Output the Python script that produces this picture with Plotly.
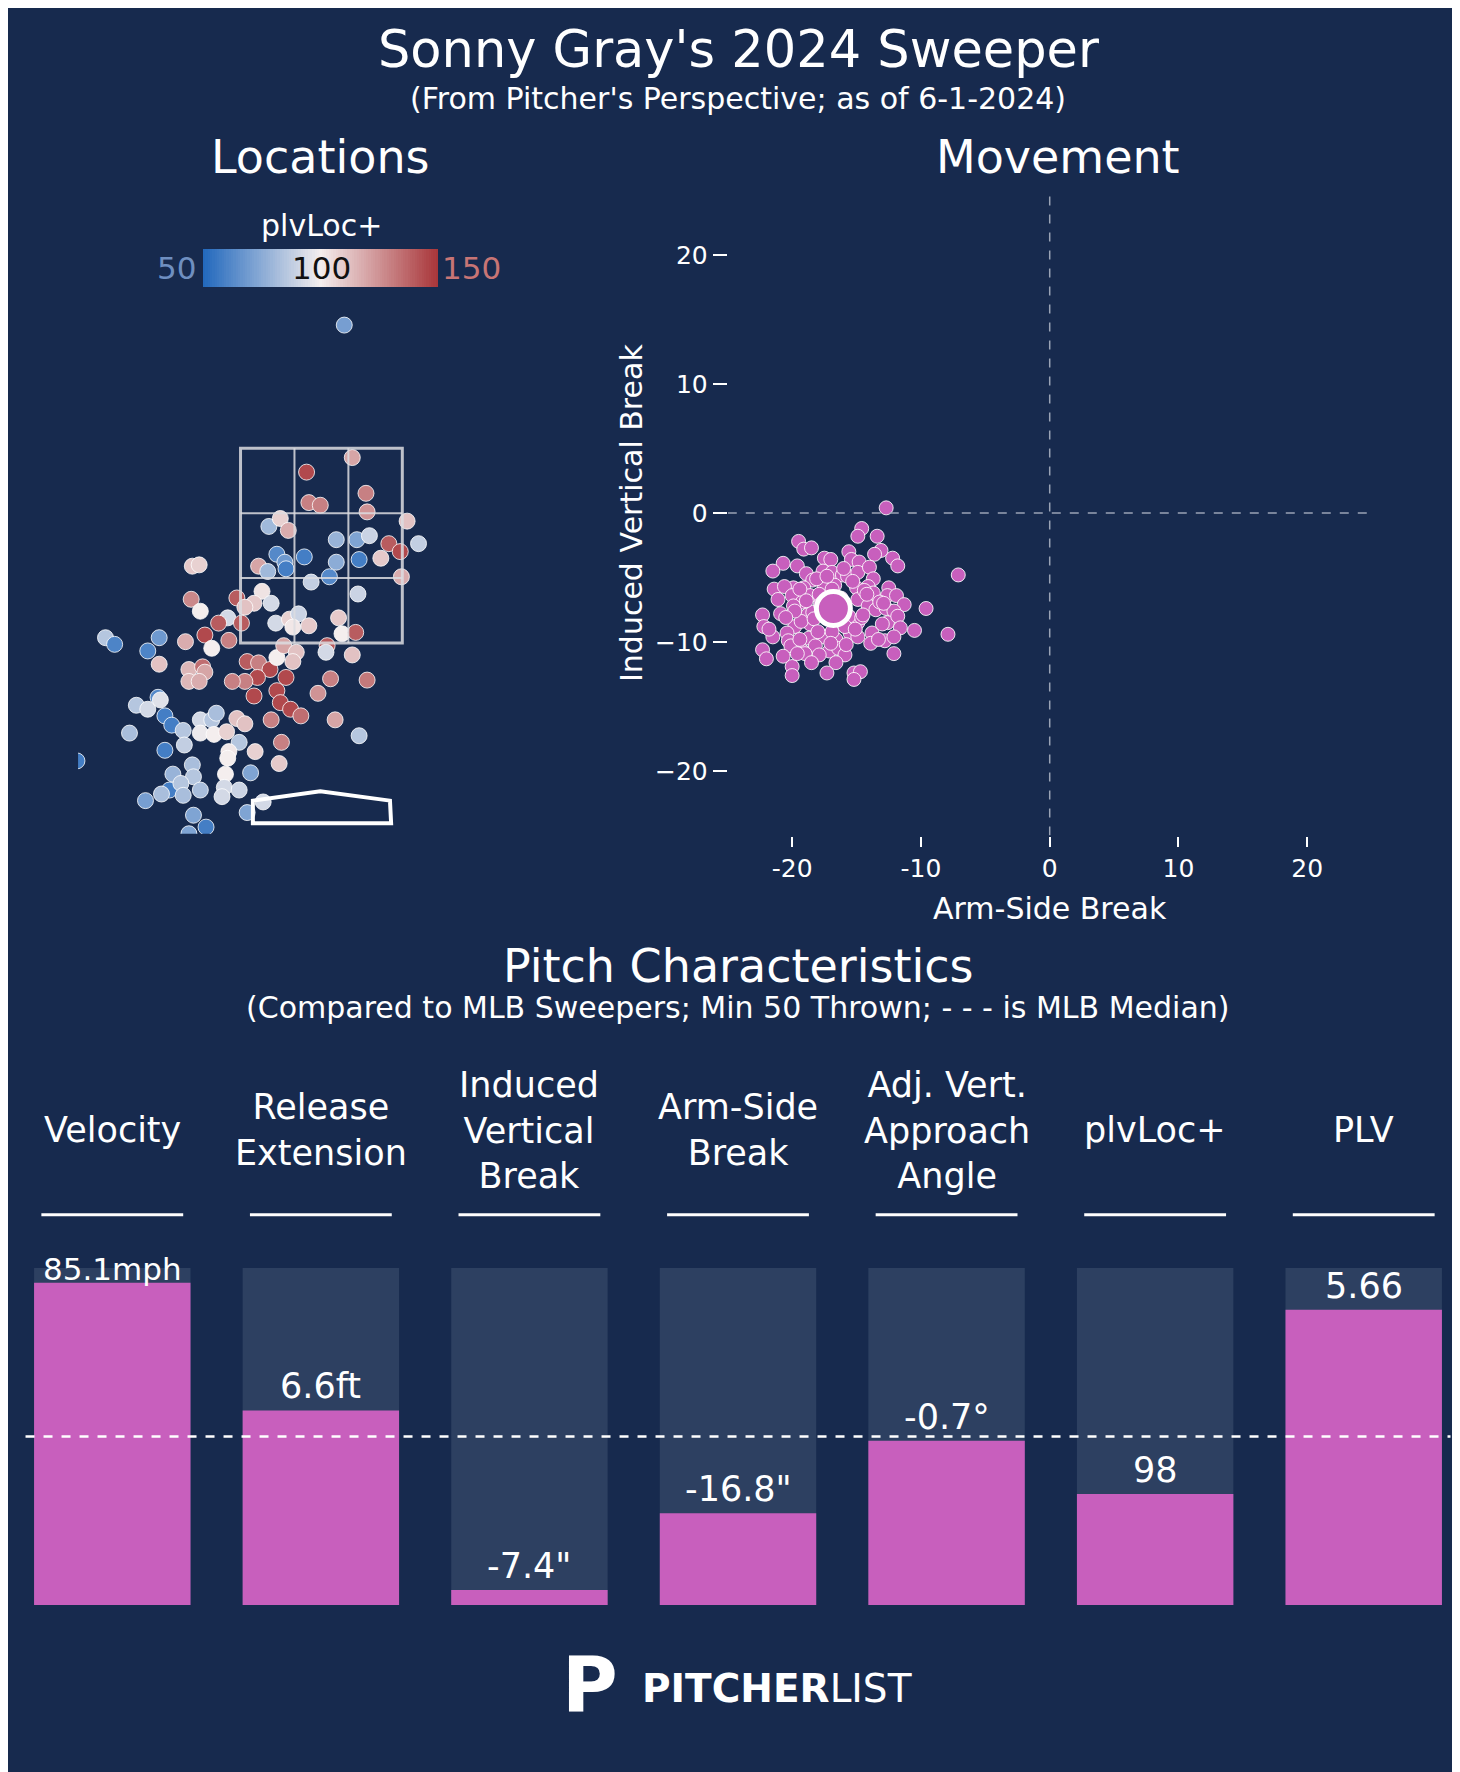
import plotly.graph_objects as go

BG = "#172a4e"
PINK = "#c85fbd"
FONT = "DejaVu Sans"
W, H = 1460, 1772

# locations (plate_x ft, plate_z ft, plvLoc+)
loc_x = [0.20, 0.27, -0.13, -0.11, -0.01, 0.39, 0.40, 0.75, -0.46, -0.36, -0.29, 0.13, 0.31, 0.42, 0.85,
         0.59, 0.69, 0.52, -0.39, -0.32, -0.31, -0.15, 0.13, 0.33, -0.55, -0.47, 0.07, -0.09, 0.70, 0.32,
         -1.13, -1.07, -1.14, -1.06, -0.74, -0.52, -0.59, -0.44, -0.67, -0.82, -0.90, -0.70, -0.81, -1.02,
         -0.96, -1.19, -0.40, -0.28, -0.20, -0.25, -0.11, 0.15, 0.18, 0.30, 0.05, 0.04, 0.27, -1.89, -1.81,
         -1.42, -1.52, -1.42, -1.16, -1.04, -1.02, -1.16, -1.07, -0.65, -0.55, -0.45, -0.39, -0.33, -0.22,
         -0.25, -0.31, -0.56, -0.67, -0.78, -0.59, -0.39, -0.36, -0.27, -0.18, -0.03, 0.08, 0.40, 0.12,
         -0.44, 0.33, -1.62, -1.52, -1.43, -1.41, -1.37, -1.31, -1.68, -1.21, -1.20, -1.37, -1.06, -1.06,
         -0.96, -0.92, -0.94, -0.83, -0.74, -0.67, -0.72, -0.81, -0.82, -0.58, -0.35, -0.37, -1.13, -1.12,
         -1.30, -1.33, -1.40, -1.23, -1.21, -1.06, -1.54, -0.84, -0.85, -0.87, -0.72, -0.62, -0.51, -0.65,
         -1.12, -1.01, -1.16, -2.14]
loc_z = [3.95, 2.95, 2.84, 2.61, 2.59, 2.68, 2.54, 2.47, 2.43, 2.49, 2.40, 2.33, 2.33, 2.36, 2.30,
         2.30, 2.24, 2.19, 2.22, 2.16, 2.11, 2.20, 2.16, 2.18, 2.13, 2.09, 2.05, 2.01, 2.05, 1.92,
         2.13, 2.14, 1.88, 1.79, 1.89, 1.94, 1.85, 1.85, 1.82, 1.74, 1.70, 1.70, 1.57, 1.61,
         1.51, 1.56, 1.70, 1.73, 1.77, 1.67, 1.68, 1.74, 1.62, 1.63, 1.53, 1.48, 1.46, 1.59, 1.54,
         1.59, 1.49, 1.39, 1.35, 1.37, 1.33, 1.26, 1.26, 1.41, 1.40, 1.35, 1.44, 1.53, 1.48,
         1.41, 1.29, 1.29, 1.26, 1.26, 1.15, 1.19, 1.10, 1.05, 1.00, 1.17, 1.28, 1.27, 0.97,
         0.97, 0.85, 1.08, 1.05, 1.14, 1.12, 1.00, 0.93, 0.87, 0.89, 0.78, 0.74, 0.97, 0.87,
         0.97, 1.02, 0.86, 0.88, 0.98, 0.94, 0.80, 0.73, 0.68, 0.73, 0.80, 0.64, 0.63, 0.54,
         0.56, 0.44, 0.41, 0.49, 0.40, 0.44, 0.36, 0.56, 0.46, 0.39, 0.44, 0.57, 0.35, 0.27,
         0.25, 0.16, 0.11, 0.66]
loc_plv = [70, 120, 145, 130, 130, 130, 125, 112, 80, 108, 118, 78, 72, 90, 88,
           140, 145, 110, 62, 68, 58, 58, 75, 58, 120, 80, 62, 88, 118, 90,
           110, 108, 128, 100, 140, 103, 110, 92, 112, 92, 140, 140, 130, 145,
           100, 118, 92, 108, 90, 102, 110, 110, 100, 140, 140, 92, 112, 85, 60,
           68, 60, 112, 115, 135, 120, 115, 118, 140, 130, 145, 100, 120, 112,
           112, 145, 145, 130, 130, 145, 145, 145, 145, 135, 125, 130, 132, 120,
           130, 85, 85, 92, 62, 95, 58, 58, 82, 85, 88, 58, 92, 98,
           85, 82, 100, 108, 112, 112, 85, 102, 100, 108, 130, 110, 82, 85,
           78, 58, 82, 85, 82, 82, 70, 100, 92, 92, 90, 72, 92, 72,
           72, 58, 72, 58]

# movement (arm-side break in, induced vertical break in)
hb = [-12.7, -14.6, -14.9, -13.4, -19.5, -19.1, -18.5, -15.6, -13.1, -13.6, -12.2, -11.8, -7.1, -15.4, -14.8,
      -17.5, -17.0, -20.7, -19.6, -21.5, -17.6, -16.9, -16.1, -15.7, -14.9, -14.0, -13.7, -18.9, -18.4, -19.9,
      -21.4, -20.6, -19.1, -17.5, -16.7, -15.0, -14.1, -13.7, -12.5, -12.6, -11.9, -11.3, -9.6, -21.1, -20.0,
      -19.2, -18.6, -14.9, -14.1, -13.5, -12.7, -12.1, -20.9, -22.3, -19.9, -18.8, -18.4, -22.2, -21.5, -19.8,
      -20.4, -18.6, -19.3, -14.9, -12.6, -11.8, -11.6, -10.5, -7.9, -13.8, -12.8, -12.1, -15.5, -14.9, -16.6,
      -17.6, -18.7, -20.3, -22.3, -22.0, -18.2, -19.2, -20.1, -17.1, -16.4, -15.9, -12.1, -20.7, -20.0, -20.0,
      -16.6, -17.3, -15.2, -14.7, -15.2, -17.9, -19.4, -16.9, -17.9, -15.6, -19.4, -16.9,
      -18.1, -17.3, -15.3, -14.4, -13.2, -19.8, -18.3, -15.9, -14.6, -13.0, -20.5, -18.0, -15.1, -13.9,
      -19.0, -17.0, -16.2, -14.2, -21.8, -18.9, -17.8, -14.5, -13.3, -12.9, -16.0, -19.6, -15.8, -18.5]
ivb = [0.4, -1.2, -1.8, -1.8, -2.2, -2.8, -2.7, -3.0, -2.9, -3.2, -3.5, -4.1, -4.8, -3.6, -3.8,
       -3.5, -3.6, -3.9, -4.1, -4.5, -4.5, -4.6, -4.8, -4.9, -4.6, -4.2, -5.1, -4.7, -5.2, -5.8,
       -5.9, -5.7, -5.8, -5.7, -5.6, -5.8, -5.7, -6.2, -5.8, -6.4, -6.4, -7.1, -7.4, -6.7, -6.4,
       -6.9, -6.4, -6.7, -7.2, -7.5, -7.4, -7.6, -7.8, -7.9, -7.2, -7.9, -7.7, -8.8, -9.6, -8.8,
       -9.3, -8.6, -8.4, -8.5, -8.5, -8.0, -8.9, -9.1, -9.4, -9.3, -9.9, -9.6, -9.3, -9.6, -9.8,
       -9.6, -9.7, -9.9, -10.6, -11.3, -10.3, -10.7, -10.3, -10.7, -10.5, -11.0, -10.9, -11.1, -11.9, -12.6,
       -11.6, -12.4, -12.4, -12.3, -12.9, -11.0, -9.8, -9.2, -6.3, -8.0, -5.9, -5.9,
       -5.1, -4.9, -5.3, -6.0, -6.9, -7.6, -8.2, -8.8, -8.1, -8.6, -8.1, -9.2, -9.0, -10.1,
       -10.9, -10.1, -6.6, -6.3, -9.0, -6.8, -7.1, -7.9, -9.8, -7.0, -4.3, -10.9, -10.2, -11.6]
avg_hb, avg_ivb = -16.8, -7.4

# pitch characteristics (percentile vs MLB sweepers)
metrics = ["Velocity", "Release<br>Extension", "Induced<br>Vertical<br>Break", "Arm-Side<br>Break",
           "Adj. Vert.<br>Approach<br>Angle", "plvLoc+", "PLV"]
pct = [0.956, 0.577, 0.044, 0.272, 0.487, 0.329, 0.876]
labels = ["85.1mph", "6.6ft", "-7.4\"", "-16.8\"", "-0.7°", "98", "5.66"]

scale = [[0, "#2369bd"], [0.5, "#f4eeee"], [1, "#a9373b"]]

fig = go.Figure()

fig.add_trace(go.Scatter(
    x=loc_x, y=loc_z, mode="markers", xaxis="x", yaxis="y",
    marker=dict(size=16, color=loc_plv, colorscale=scale, cmin=50, cmax=150,
                line=dict(color="rgba(255,255,255,0.8)", width=1)),
    showlegend=False))

cb_vals = list(range(50, 151))
fig.add_trace(go.Heatmap(z=[cb_vals], x=cb_vals, xaxis="x3", yaxis="y3",
                         colorscale=scale, zmin=50, zmax=150, showscale=False))

fig.add_trace(go.Scatter(
    x=hb, y=ivb, mode="markers", xaxis="x2", yaxis="y2",
    marker=dict(size=14, color=PINK, line=dict(color="rgba(255,255,255,0.85)", width=1)),
    showlegend=False))
fig.add_trace(go.Scatter(
    x=[avg_hb], y=[avg_ivb], mode="markers", xaxis="x2", yaxis="y2",
    marker=dict(size=34, color=PINK, line=dict(color="white", width=5)), showlegend=False))

idx = list(range(len(metrics)))
fig.add_trace(go.Bar(x=idx, y=[1] * len(idx), xaxis="x4", yaxis="y4", width=0.75,
                     marker=dict(color="#2d4061", line=dict(width=0)), showlegend=False))
fig.add_trace(go.Bar(x=idx, y=pct, xaxis="x4", yaxis="y4", width=0.75,
                     marker=dict(color=PINK, line=dict(width=0)), showlegend=False))

shapes = []
# strike zone
zx0, zx1, zz0, zz1 = -0.708, 0.708, 1.55, 3.02
zc = "rgba(220,220,225,0.85)"
shapes.append(dict(type="rect", xref="x", yref="y", x0=zx0, x1=zx1, y0=zz0, y1=zz1,
                   line=dict(color=zc, width=3)))
for k in (1, 2):
    xv = zx0 + (zx1 - zx0) * k / 3
    zv = zz0 + (zz1 - zz0) * k / 3
    shapes.append(dict(type="line", xref="x", yref="y", x0=xv, x1=xv, y0=zz0, y1=zz1,
                       line=dict(color=zc, width=2)))
    shapes.append(dict(type="line", xref="x", yref="y", x0=zx0, x1=zx1, y0=zv, y1=zv,
                       line=dict(color=zc, width=2)))
shapes.append(dict(type="path", xref="x", yref="y",
                   path="M -0.60 0.19 L 0.61 0.19 L 0.60 0.36 L -0.01 0.43 L -0.60 0.36 Z",
                   line=dict(color="white", width=4)))
# movement reference lines
shapes.append(dict(type="line", xref="x2", yref="y2", x0=-25, x1=25, y0=0, y1=0,
                   line=dict(color="#9aa3b5", width=1.5, dash="dash")))
shapes.append(dict(type="line", xref="x2", yref="y2", x0=0, x1=0, y0=-25, y1=25,
                   line=dict(color="#9aa3b5", width=1.5, dash="dash")))
# header underlines and median line
for i in idx:
    shapes.append(dict(type="line", xref="x4", yref="paper", x0=i - 0.34, x1=i + 0.34,
                       y0=0.319, y1=0.319, line=dict(color="white", width=3)))
shapes.append(dict(type="line", xref="paper", yref="y4", x0=0.012, x1=0.988, y0=0.5, y1=0.5,
                   line=dict(color="white", width=2.5, dash="dash")))

ann = []


def txt(x, y, t, size, color="white", xanchor="center", **kw):
    d = dict(x=x, y=y, xref="paper", yref="paper", text=t, showarrow=False,
             xanchor=xanchor, yanchor="middle",
             font=dict(size=size, color=color, family=FONT))
    d.update(kw)
    ann.append(d)


txt(0.5, 1 - 41 / H, "Sonny Gray's 2024 Sweeper", 51)
txt(0.5, 1 - 90 / H, "(From Pitcher's Perspective; as of 6-1-2024)", 30)
txt(312 / W, 1 - 149 / H, "Locations", 46)
txt(1050 / W, 1 - 149 / H, "Movement", 46)
txt(313 / W, 1 - 217 / H, "plvLoc+", 30)
txt(168 / W, 1 - 260 / H, "50", 31, color="#6f8fc0")
txt(463 / W, 1 - 260 / H, "150", 31, color="#c87575")
txt(313 / W, 1 - 260 / H, "100", 31, color="#111111")
txt(1042 / W, 1 - 900 / H, "Arm-Side Break", 30)
txt(623 / W, 1 - 505 / H, "Induced Vertical Break", 30, textangle=-90)
txt(0.5, 1 - 958 / H, "Pitch Characteristics", 46)
txt(0.5, 1 - 999 / H, "(Compared to MLB Sweepers; Min 50 Thrown; - - - is MLB Median)", 30)
for i, m in enumerate(metrics):
    ann.append(dict(x=i, y=1 - 1122 / H, xref="x4", yref="paper", text=m, showarrow=False,
                    xanchor="center", yanchor="middle",
                    font=dict(size=35, color="white", family=FONT)))
    ann.append(dict(x=i, y=pct[i], xref="x4", yref="y4", text=labels[i], showarrow=False,
                    xanchor="center", yanchor="bottom", yshift=-6 if i == 0 else 2,
                    font=dict(size=35 if i else 31, color="white", family=FONT)))
txt(582 / W, 1 - 1676 / H, "<b>P</b>", 76)
txt(632 / W, 1 - 1680 / H, "<b>PITCHER</b>LIST", 39, xanchor="left")

fig.update_layout(
    width=W, height=H, paper_bgcolor=BG, plot_bgcolor=BG,
    margin=dict(l=0, r=0, t=0, b=0), font=dict(family=FONT, color="white"),
    barmode="overlay", shapes=shapes, annotations=ann,
    xaxis=dict(domain=[0.048, 0.379], range=[-2.13, 2.1], visible=False, fixedrange=True),
    yaxis=dict(domain=[0.534, 0.8375], range=[0.11, 4.17], visible=False),
    xaxis3=dict(domain=[195 / W, 430 / W], range=[49.5, 150.5], visible=False, anchor="y3"),
    yaxis3=dict(domain=[1 - 279 / H, 1 - 241 / H], visible=False, anchor="x3"),
    xaxis2=dict(domain=[0.493, 0.934], range=[-25, 25], anchor="y2", showgrid=False, zeroline=False,
                showline=False, tickvals=[-20, -10, 0, 10, 20], ticktext=["-20", "-10", "0", "10", "20"],
                ticks="outside", ticklen=10, tickwidth=2, tickcolor="white",
                tickfont=dict(size=25, color="white")),
    yaxis2=dict(domain=[0.533, 0.897], range=[-25, 25], anchor="x2", showgrid=False, zeroline=False,
                showline=False, tickvals=[-20, -10, 0, 10, 20], ticks="outside", ticklen=14,
                tickwidth=2, tickcolor="white", tickfont=dict(size=25, color="white")),
    xaxis4=dict(domain=[0, 1], range=[-0.5, 6.5], anchor="y4", visible=False),
    yaxis4=dict(domain=[0.0988, 0.289], range=[0, 1], anchor="x4", visible=False),
)

fig.write_html("out.html")
